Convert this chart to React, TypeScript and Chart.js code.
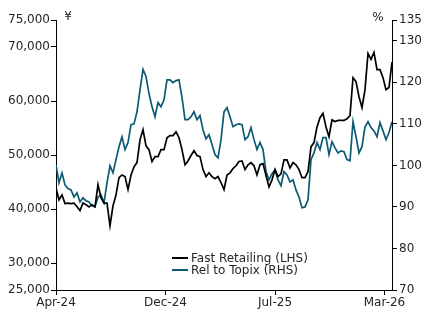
import React, { useEffect, useRef } from "react";
import { Chart, registerables } from "chart.js";

Chart.register(...registerables);

// Fast Retailing share price (JPY, LHS), sampled evenly across Apr-24 .. Mar-26
const fastRetailing: number[] = [
  43900, 41700, 42600, 41000, 41100, 41000, 41100, 40400, 39700, 41100,
  40800, 40400, 40800, 40400, 44500, 42100, 41100, 41100, 36900, 40600,
  42600, 45800, 46300, 46000, 43600, 46300, 47800, 48600, 52800, 54700,
  51700, 51000, 48800, 49700, 49700, 51000, 51000, 53200, 53600, 53600,
  54300, 53200, 51000, 48200, 48900, 49900, 50800, 49900, 49700, 47300,
  46000, 46700, 46000, 45600, 46000, 44900, 43600, 46300, 46700, 47500,
  48000, 48800, 48900, 47300, 48200, 48600, 48000, 46300, 48200, 48400,
  46200, 44100, 45400, 47300, 46000, 46500, 49100, 49100, 47600, 48600,
  48200, 47300, 45800, 45800, 46900, 51500, 52300, 55200, 56900, 57700,
  55200, 53400, 56500, 56200, 56400, 56400, 56400, 56700, 57300, 64300,
  63600, 60800, 58800, 62100, 68800, 67700, 69000, 65800, 65800, 64300,
  62100, 62500, 67200,
];

// Relative to Topix (%, RHS)
const relTopix: number[] = [
  100.1, 95.8, 98.2, 95.3, 94.4, 94.1, 92.4, 93.4, 91.2, 92.2,
  91.5, 91.2, 90.3, 90.0, 92.4, 92.9, 91.0, 95.8, 99.9, 98.2,
  101.4, 104.5, 106.9, 103.8, 105.5, 109.8, 110.0, 112.9, 118.2, 123.1,
  121.4, 117.3, 114.1, 111.7, 115.1, 114.1, 115.8, 120.6, 120.6, 119.9,
  120.4, 120.6, 116.3, 111.0, 111.0, 111.7, 112.9, 111.0, 112.0, 108.6,
  106.4, 107.4, 105.0, 102.6, 101.8, 106.2, 112.9, 113.9, 111.7, 109.3,
  109.8, 110.0, 109.8, 106.2, 106.9, 109.1, 106.2, 103.8, 105.5, 103.8,
  98.5, 96.5, 98.0, 98.9, 96.5, 95.1, 98.5, 97.7, 96.0, 96.5,
  94.1, 92.4, 89.8, 90.0, 91.7, 101.4, 103.0, 105.5, 103.8, 106.7,
  106.7, 102.6, 105.7, 104.2, 103.0, 103.5, 103.3, 101.4, 101.1, 110.5,
  106.9, 103.0, 104.5, 109.3, 110.5, 109.1, 108.3, 106.9, 110.3, 108.3,
  106.2, 107.9, 110.5,
];

const xTickLabels: string[] = ["Apr-24", "Dec-24", "Jul-25", "Mar-26"];
const xTickIndex: number[] = [0, 36.5, 73, 109.5];
const leftTicks: number[] = [25000, 30000, 40000, 50000, 60000, 70000, 75000];
const rightTicks: number[] = [70, 80, 90, 100, 110, 120, 130, 135];
const seriesNames: string[] = ["Fast Retailing (LHS)", "Rel to Topix (RHS)"];
const leftUnit = "¥";
const rightUnit = "%";

const BLACK = "#000000";
const TEAL = "#0c5a73";
const FONT = "'DejaVu Sans', Verdana, sans-serif";
const TEXT = "#262626";

export default function App() {
  const ref = useRef<HTMLCanvasElement | null>(null);

  useEffect(() => {
    if (!ref.current) return;
    const overlay = {
      id: "overlay",
      afterDraw(chart: any) {
        const { ctx, chartArea } = chart;
        ctx.save();
        ctx.font = `12px ${FONT}`;
        ctx.fillStyle = TEXT;
        ctx.textBaseline = "middle";
        ctx.textAlign = "center";
        ctx.fillText(leftUnit, chartArea.left + 12, chartArea.top - 3);
        ctx.fillText(rightUnit, chartArea.right - 14, chartArea.top - 2);
        // legend
        const lx = chartArea.left + 116;
        const ly = chartArea.bottom - 32;
        const colors = [BLACK, TEAL];
        ctx.textAlign = "left";
        seriesNames.forEach((name, i) => {
          const y = ly + i * 12;
          ctx.strokeStyle = colors[i];
          ctx.lineWidth = 2;
          ctx.beginPath();
          ctx.moveTo(lx, y);
          ctx.lineTo(lx + 16, y);
          ctx.stroke();
          ctx.fillStyle = TEXT;
          ctx.fillText(name, lx + 19, y + 0.5);
        });
        ctx.restore();
      },
    };

    const tickFont = { family: FONT, size: 12 };

    const chart = new Chart(ref.current, {
      type: "line",
      data: {
        datasets: [
          {
            label: seriesNames[0],
            data: fastRetailing.map((v, i) => ({ x: i, y: v })),
            borderColor: BLACK,
            borderWidth: 1.7,
            pointRadius: 0,
            yAxisID: "y",
            order: 1,
          },
          {
            label: seriesNames[1],
            data: relTopix.map((v, i) => ({ x: i, y: v })),
            borderColor: TEAL,
            borderWidth: 1.7,
            pointRadius: 0,
            yAxisID: "y1",
            order: 2,
          },
        ],
      },
      options: {
        animation: false,
        responsive: true,
        maintainAspectRatio: false,
        devicePixelRatio: 1,
        layout: { padding: { top: 20, left: 0, right: 0, bottom: 0 } },
        plugins: { legend: { display: false }, tooltip: { enabled: false } },
        scales: {
          x: {
            type: "linear",
            min: 0,
            max: fastRetailing.length - 1,
            afterBuildTicks: (s: any) => {
              s.ticks = xTickIndex.map((v) => ({ value: v }));
            },
            afterFit: (s: any) => {
              s.height = 19;
            },
            ticks: {
              autoSkip: false,
              maxRotation: 0,
              padding: 1,
              color: TEXT,
              font: tickFont,
              callback: (v: any) => {
                const k = xTickIndex.indexOf(Number(v));
                return k >= 0 ? xTickLabels[k] : "";
              },
            },
            grid: { drawOnChartArea: false, drawTicks: true, tickLength: 5, color: "#000" },
            border: { display: true, color: "#000", width: 1 },
          },
          y: {
            type: "linear",
            position: "left",
            min: 25000,
            max: 75000,
            afterBuildTicks: (s: any) => {
              s.ticks = leftTicks.map((v) => ({ value: v }));
            },
            afterFit: (s: any) => {
              s.width = 56;
            },
            ticks: {
              autoSkip: false,
              padding: 1,
              color: TEXT,
              font: tickFont,
              callback: (v: any) => Number(v).toLocaleString("en-US"),
            },
            grid: { drawOnChartArea: false, drawTicks: true, tickLength: 5, color: "#000" },
            border: { display: true, color: "#000", width: 1 },
          },
          y1: {
            type: "linear",
            position: "right",
            min: 70,
            max: 135,
            afterBuildTicks: (s: any) => {
              s.ticks = rightTicks.map((v) => ({ value: v }));
            },
            afterFit: (s: any) => {
              s.width = 32;
            },
            ticks: {
              autoSkip: false,
              padding: 2,
              color: TEXT,
              font: tickFont,
              callback: (v: any) => String(v),
            },
            grid: { drawOnChartArea: false, drawTicks: true, tickLength: 5, color: "#000" },
            border: { display: true, color: "#000", width: 1 },
          },
        },
      },
      plugins: [overlay],
    });
    return () => chart.destroy();
  }, []);

  return (
    <div style={{ position: "fixed", left: 0, top: 0, width: 424, height: 309, background: "#fff" }}>
      <canvas ref={ref} />
    </div>
  );
}
